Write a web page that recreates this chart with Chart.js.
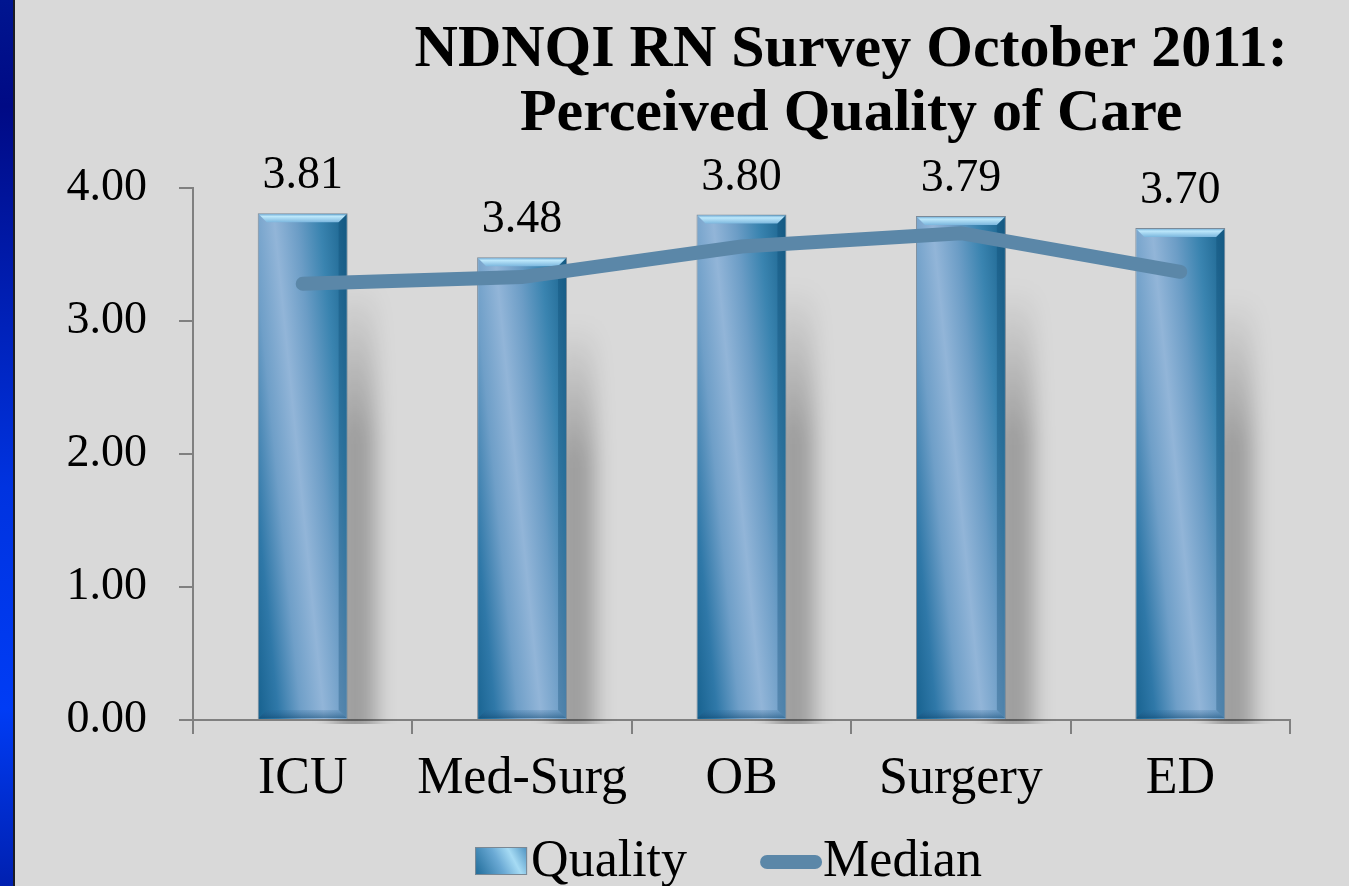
<!DOCTYPE html>
<html>
<head>
<meta charset="utf-8">
<script src="https://cdn.jsdelivr.net/npm/chart.js@4.4.1/dist/chart.umd.min.js"></script>
<style>
  html, body { margin: 0; padding: 0; background: #d9d9d9; overflow: hidden; }
  #wrap { position: relative; width: 1349px; height: 886px; }
  #strip {
    position: absolute; left: 0; top: 0; width: 13px; height: 886px;
    background: linear-gradient(to bottom, #001590 0%, #000a85 12%, #0033e0 55%, #003cf5 80%, #0020b0 100%);
    border-right: 2px solid #1c1c24;
  }
  #chart { position: absolute; left: 0; top: 0; }
</style>
</head>
<body>
<div id="wrap">
  <div id="strip"></div>
  <canvas id="chart" width="1349" height="886"></canvas>
</div>
<script>
// Data
const categories = ['ICU', 'Med-Surg', 'OB', 'Surgery', 'ED'];
const qualityValues = [3.81, 3.48, 3.80, 3.79, 3.70];
const medianValues = [3.28, 3.33, 3.56, 3.66, 3.37];
const yTicks = [0, 1, 2, 3, 4];
const titleLines = ['NDNQI RN Survey October 2011:', 'Perceived Quality of Care'];

const FONT = '"Liberation Serif", "Times New Roman", serif';
const BAR_PCT = 0.41;
const LINE_COLOR = '#5b87a8';
const AXIS_COLOR = '#808080';

// Glossy diagonal fill for each bar, built from the scales
function barFill(context) {
    const chart = context.chart;
    const xs = chart.scales && chart.scales.x, ys = chart.scales && chart.scales.y;
    if (!xs || !ys || context.type !== 'data') return '#4a8ab8';
    const cx = xs.getPixelForValue(context.dataIndex);
    const w = xs.width / categories.length * BAR_PCT;
    const top = ys.getPixelForValue(context.raw);
    const base = ys.getPixelForValue(0);
    if (![cx, w, top, base].every(Number.isFinite) || w <= 0) return '#4a8ab8';
    const mid = (top + base) / 2;
    const left = cx - w / 2;
    const g = chart.ctx.createLinearGradient(left - 0.3 * w, mid, left + 1.3 * w, mid - 0.16 * w);
    g.addColorStop(0, '#145f8c');
    g.addColorStop(0.156, '#2f78a8');
    g.addColorStop(0.3125, '#6f9fc8');
    g.addColorStop(0.469, '#92b5d8');
    g.addColorStop(0.625, '#6c9dc6');
    g.addColorStop(0.781, '#3a84b0');
    g.addColorStop(1, '#135c86');
    return g;
}

// Shadows behind bars + bevels on top of them
const barEffects = {
    id: 'barEffects',
    beforeDatasetDraw(chart, args) {
        if (args.index !== 0) return;
        const ctx = chart.ctx;
        const area = chart.chartArea;
        ctx.save();
        ctx.beginPath();
        ctx.rect(area.left + 2, area.top - 60, area.width, area.height + 64);
        ctx.clip();
        ctx.filter = 'blur(10px)';
        args.meta.data.forEach(el => {
            const h = el.base - el.y;
            const right = el.x + el.width / 2;
            const sTop = el.y + h * 0.14;
            const g = ctx.createLinearGradient(0, sTop, 0, sTop + h * 0.3);
            g.addColorStop(0, 'rgba(0,0,0,0)');
            g.addColorStop(1, 'rgba(0,0,0,0.27)');
            ctx.fillStyle = g;
            ctx.fillRect(right - 14, sTop, 42, h);
        });
        ctx.restore();
    },
    afterDatasetDraw(chart, args) {
        if (args.index !== 0) return;
        const ctx = chart.ctx;
        const b = 9;
        args.meta.data.forEach(el => {
            const left = el.x - el.width / 2, right = el.x + el.width / 2;
            const top = el.y, bottom = el.base;
            ctx.save();
            // top bevel
            let g = ctx.createLinearGradient(0, top, 0, top + b);
            g.addColorStop(0, '#5a9ccc');
            g.addColorStop(0.35, '#bde8fb');
            g.addColorStop(1, '#7cb7de');
            ctx.fillStyle = g;
            ctx.beginPath();
            ctx.moveTo(left + 1, top + 1);
            ctx.lineTo(right - 1, top + 1);
            ctx.lineTo(right - b, top + b);
            ctx.lineTo(left + b, top + b);
            ctx.closePath();
            ctx.fill();
            // bottom bevel
            g = ctx.createLinearGradient(0, bottom - b, 0, bottom);
            g.addColorStop(0, 'rgba(40,100,150,0.15)');
            g.addColorStop(1, 'rgba(15,70,110,0.6)');
            ctx.fillStyle = g;
            ctx.beginPath();
            ctx.moveTo(left + 1, bottom - 1);
            ctx.lineTo(right - 1, bottom - 1);
            ctx.lineTo(right - b, bottom - b);
            ctx.lineTo(left + b, bottom - b);
            ctx.closePath();
            ctx.fill();
            // right edge shade
            ctx.fillStyle = 'rgba(10,70,110,0.3)';
            ctx.beginPath();
            ctx.moveTo(right - 1, top + 1);
            ctx.lineTo(right - 1, bottom - 1);
            ctx.lineTo(right - b, bottom - b);
            ctx.lineTo(right - b, top + b);
            ctx.closePath();
            ctx.fill();
            ctx.restore();
        });
    }
};

// Value labels, title and legend
const annotations = {
    id: 'annotations',
    afterDatasetsDraw(chart) {
        const ctx = chart.ctx;
        const area = chart.chartArea;
        ctx.save();
        ctx.fillStyle = '#000';
        ctx.textAlign = 'center';
        ctx.textBaseline = 'alphabetic';
        ctx.font = '46px ' + FONT;
        chart.getDatasetMeta(0).data.forEach((el, i) => {
            ctx.fillText(qualityValues[i].toFixed(2), el.x, el.y - 25);
        });

        // title
        ctx.font = 'bold 60px ' + FONT;
        const tx = area.left + area.width * 0.6;
        ctx.fillText(titleLines[0], tx, 66);
        ctx.fillText(titleLines[1], tx, 130);

        // legend
        ctx.font = '52px ' + FONT;
        ctx.textAlign = 'left';
        const boxW = 52, boxH = 28, gapText = 4, gapItems = 73, lineLen = 62;
        const w1 = ctx.measureText('Quality').width;
        const w2 = ctx.measureText('Median').width;
        const total = boxW + gapText + w1 + gapItems + lineLen + 1 + w2;
        let x = (area.left + area.right) / 2 - 13 - total / 2;
        const baseY = 876;
        const bTop = 847;
        let g = ctx.createLinearGradient(x, bTop + boxH, x + boxW, bTop);
        g.addColorStop(0, '#1d6a98');
        g.addColorStop(0.45, '#6aa9d4');
        g.addColorStop(0.7, '#a6dbf4');
        g.addColorStop(1, '#4b90bf');
        ctx.fillStyle = g;
        ctx.fillRect(x, bTop, boxW, boxH);
        ctx.strokeStyle = '#7a8894';
        ctx.lineWidth = 1;
        ctx.strokeRect(x + 0.5, bTop + 0.5, boxW - 1, boxH - 1);
        ctx.fillStyle = '#000';
        ctx.fillText('Quality', x + boxW + gapText, baseY);
        x += boxW + gapText + w1 + gapItems;
        ctx.strokeStyle = LINE_COLOR;
        ctx.lineWidth = 14;
        ctx.lineCap = 'round';
        ctx.beginPath();
        ctx.moveTo(x + 7, 862);
        ctx.lineTo(x + lineLen - 7, 862);
        ctx.stroke();
        ctx.fillText('Median', x + lineLen + 1, baseY);
        ctx.restore();
    }
};

const ctx = document.getElementById('chart').getContext('2d');
new Chart(ctx, {
    type: 'bar',
    data: {
        labels: categories,
        datasets: [{
            type: 'bar',
            label: 'Quality',
            data: qualityValues,
            order: 2,
            backgroundColor: barFill,
            borderColor: '#7a8a99',
            borderWidth: 1,
            categoryPercentage: 1,
            barPercentage: BAR_PCT
        }, {
            type: 'line',
            label: 'Median',
            data: medianValues,
            order: 1,
            borderColor: LINE_COLOR,
            borderWidth: 14,
            borderCapStyle: 'round',
            borderJoinStyle: 'miter',
            pointRadius: 0,
            tension: 0,
            fill: false
        }]
    },
    options: {
        responsive: false,
        animation: false,
        layout: { padding: { left: 0, top: 188, right: 59, bottom: 0 } },
        plugins: {
            legend: { display: false },
            title: { display: false },
            tooltip: { enabled: false }
        },
        scales: {
            x: {
                offset: true,
                grid: {
                    offset: true,
                    drawOnChartArea: false,
                    drawTicks: true,
                    tickLength: 14,
                    color: AXIS_COLOR,
                    lineWidth: 2
                },
                border: { display: true, color: AXIS_COLOR, width: 2 },
                ticks: {
                    color: '#000',
                    font: { family: FONT, size: 52 },
                    padding: 14,
                    maxRotation: 0
                },
                afterFit(scale) { scale.height = 166; }
            },
            y: {
                min: 0,
                max: 4,
                afterBuildTicks(scale) { scale.ticks = yTicks.map(v => ({ value: v })); },
                grid: {
                    drawOnChartArea: false,
                    drawTicks: true,
                    tickLength: 14,
                    color: AXIS_COLOR,
                    lineWidth: 2
                },
                border: { display: true, color: AXIS_COLOR, width: 2 },
                ticks: {
                    color: '#000',
                    font: { family: FONT, size: 46 },
                    padding: 32,
                    callback: v => Number(v).toFixed(2)
                },
                afterFit(scale) { scale.width = 193; }
            }
        }
    },
    plugins: [barEffects, annotations]
});
</script>
</body>
</html>
